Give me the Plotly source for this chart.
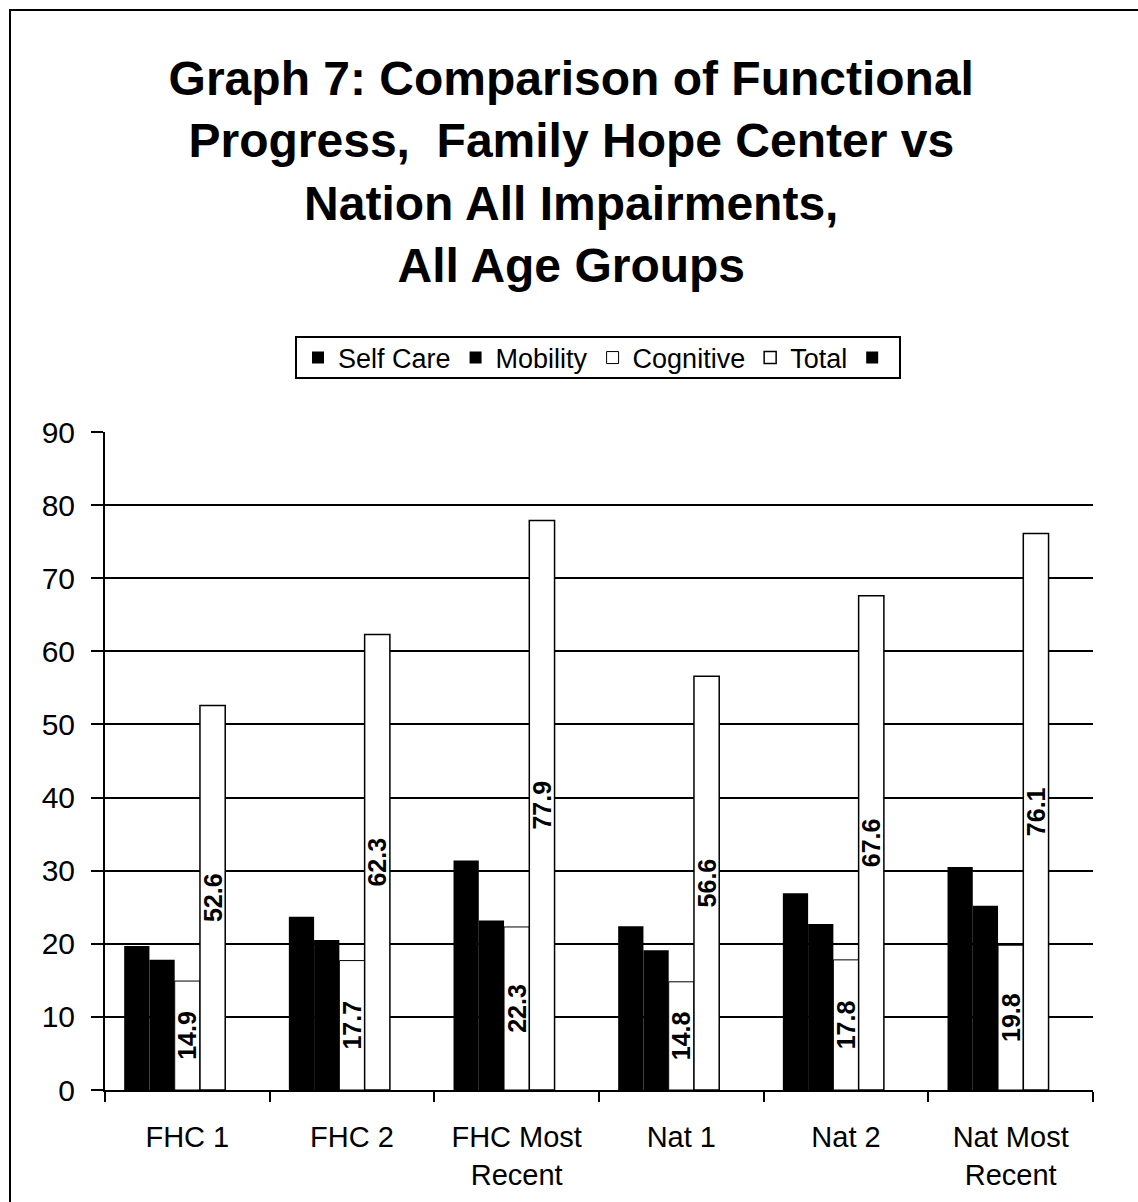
import plotly.graph_objects as go

categories = ["FHC 1", "FHC 2", "FHC Most<br>Recent", "Nat 1", "Nat 2", "Nat Most<br>Recent"]
self_care = [19.7, 23.7, 31.4, 22.4, 26.9, 30.5]
mobility = [17.8, 20.5, 23.2, 19.1, 22.7, 25.2]
cognitive = [14.9, 17.7, 22.3, 14.8, 17.8, 19.8]
total = [52.6, 62.3, 77.9, 56.6, 67.6, 76.1]
blank = [None] * 6

y_ticks = list(range(0, 100, 10))

FONT = "Arial, Liberation Sans, sans-serif"

fig = go.Figure()

def add_bar(name, vals, fill, line_w, label_color, show_text=True):
    fig.add_trace(go.Bar(
        name=name, x=categories, y=vals,
        marker=dict(color=fill, line=dict(color="black", width=line_w)),
        text=[f"<b>{v}</b>" if v is not None else "" for v in vals] if show_text else None,
        textposition="inside", insidetextanchor="middle", textangle=-90,
        constraintext="none",
        textfont=dict(family=FONT, size=25, color=label_color),
        cliponaxis=False,
    ))

add_bar("Self Care", self_care, "black", 0, "black")
add_bar("Mobility", mobility, "black", 0, "black")
add_bar("Cognitive", cognitive, "white", 1, "black")
add_bar("Total", total, "white", 1.5, "black")
add_bar("", blank, "black", 0, "black", show_text=False)

ML, MR, MT, MB = 105, 45, 432, 112
PW = 1138 - ML - MR
PH = 1202 - MT - MB

def px_x(px):
    return (px - ML) / PW

def px_y(py):
    return (1202 - MB - py) / PH

fig.update_layout(
    width=1138, height=1202,
    margin=dict(l=ML, r=MR, t=MT, b=MB, autoexpand=False),
    paper_bgcolor="white", plot_bgcolor="white",
    barmode="group", bargap=0.233, bargroupgap=0,
    font=dict(family=FONT, color="black"),
    title=dict(
        text="<b>Graph 7: Comparison of Functional<br>Progress,  Family Hope Center vs<br>Nation All Impairments,<br>All Age Groups</b>",
        x=0.502, xanchor="center", y=1 - 95 / 1202, yanchor="middle",
        font=dict(family=FONT, size=48, color="black"),
    ),
    legend=dict(
        orientation="h", x=px_x(598), xanchor="center", y=px_y(358), yanchor="middle",
        borderwidth=0, bgcolor="rgba(0,0,0,0)",
        font=dict(family=FONT, size=27, color="black"),
        traceorder="normal", itemwidth=30,
    ),
    xaxis=dict(
        showline=True, linecolor="black", linewidth=2,
        ticks="outside", tickson="boundaries", ticklen=10, tickwidth=1.5, tickcolor="black",
        tickfont=dict(family=FONT, size=29, color="black"),
        ticklabelstandoff=20,
        showgrid=False,
    ),
    yaxis=dict(
        range=[0, 90], tickvals=y_ticks,
        showline=True, linecolor="black", linewidth=2,
        ticks="outside", ticklen=12, tickwidth=1.5, tickcolor="black",
        tickfont=dict(family=FONT, size=30, color="black"),
        ticklabelstandoff=10,
        showgrid=True, gridcolor="black", gridwidth=1.5,
        zeroline=False,
    ),
    shapes=[
        dict(
            type="rect", xref="paper", yref="paper",
            x0=px_x(10), x1=px_x(1150), y0=px_y(1215), y1=px_y(10),
            line=dict(color="black", width=2), fillcolor="rgba(0,0,0,0)", layer="below",
        ),
        dict(
            type="rect", xref="paper", yref="paper",
            x0=px_x(296), x1=px_x(900), y0=px_y(378), y1=px_y(337),
            line=dict(color="black", width=2), fillcolor="white", layer="below",
        ),
    ],
)

fig.write_html("out.html")
